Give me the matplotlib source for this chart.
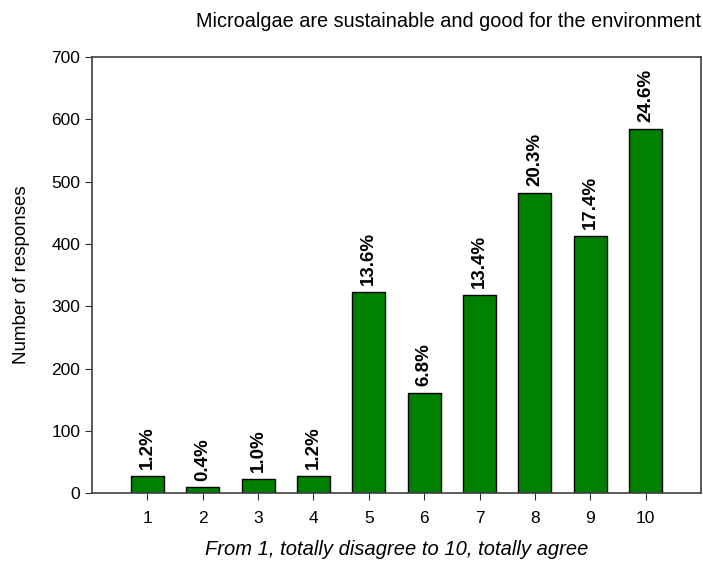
import matplotlib.pyplot as plt

plt.rcParams['font.family'] = ['Liberation Sans', 'DejaVu Sans']

# Respostas por nota (1 a 10)
notas = [1, 2, 3, 4, 5, 6, 7, 8, 9, 10]
respostas = [28, 9, 23, 28, 323, 161, 318, 482, 413, 584]
percentuais = ['1.2%', '0.4%', '1.0%', '1.2%', '13.6%', '6.8%', '13.4%', '20.3%', '17.4%', '24.6%']

fig = plt.figure(figsize=(7.03, 5.72), dpi=100)
ax = fig.add_axes([0.131, 0.138, 0.866, 0.762])

barras = ax.bar(notas, respostas, width=0.6, color='#008000', edgecolor='black', linewidth=1.0)
for b, p in zip(barras, percentuais):
    ax.annotate(p, (b.get_x() + b.get_width() / 2, b.get_height()),
                xytext=(0, 5), textcoords='offset points',
                rotation=90, ha='center', va='bottom', fontsize=13.5, fontweight='bold')

ax.set_xlim(0, 11)
ax.set_ylim(0, 700)
ax.set_xticks(notas)
ax.set_yticks(range(0, 701, 100))
ax.tick_params(direction='out', length=5, labelsize=12.5, color='#303030')
ax.tick_params(axis='x', pad=8)

for s in ax.spines.values():
    s.set_color('#404040')
    s.set_linewidth(1.2)

ax.set_title('Microalgae are sustainable and good for the environment', fontsize=14.3, pad=22, x=0.586)
ax.set_ylabel('Number of responses', fontsize=13.5, labelpad=15)
ax.set_xlabel('From 1, totally disagree to 10, totally agree', fontsize=14.5, style='italic', labelpad=10)

fig.savefig('out.png', dpi=100)
